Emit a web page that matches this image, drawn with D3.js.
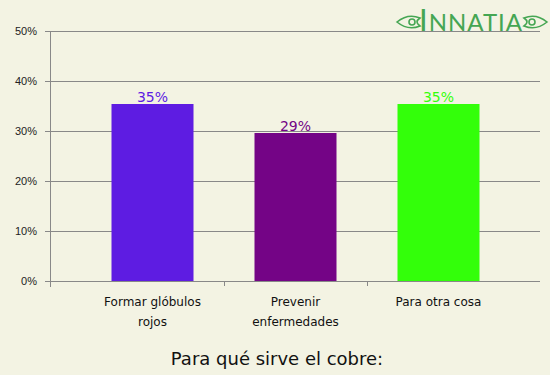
<!DOCTYPE html>
<html>
<head>
<meta charset="utf-8">
<script src="https://cdn.jsdelivr.net/npm/d3@7/dist/d3.min.js"></script>
<style>
  body { margin: 0; background: #f3f3e3; }
  svg { display: block; font-family: "DejaVu Sans", Verdana, sans-serif; }
</style>
</head>
<body>
<svg id="chart"></svg>
<script>
// data
const categories = [['Formar glóbulos', 'rojos'], ['Prevenir', 'enfermedades'], ['Para otra cosa']];
const values = [35.4, 29.6, 35.4];
const valueLabels = ['35%', '29%', '35%'];
const colors = ['#5e1ce2', '#740486', '#33ff0a'];
const yTicks = [0, 10, 20, 30, 40, 50];
const title = 'Para qué sirve el cobre:';

const W = 550, H = 375;
const svg = d3.select('#chart').attr('width', W).attr('height', H);

svg.append('rect').attr('width', W).attr('height', H).attr('fill', '#f3f3e3');

const margin = {top: 31, right: 10, bottom: 94, left: 50},
    width = W - margin.left - margin.right,
    height = H - margin.top - margin.bottom;

const g = svg.append('g')
  .attr('transform', 'translate(' + margin.left + ',' + margin.top + ')');

const y = d3.scaleLinear().domain([0, 50]).range([height, 0]);

// bands sit inside the plot with some slack on each side
const x = d3.scaleBand()
  .domain(d3.range(categories.length))
  .range([31, 31 + 143 * 3])
  .paddingInner(0)
  .paddingOuter(0);

// gridlines
g.selectAll('.grid')
  .data(yTicks.filter(d => d > 0))
  .enter().append('line')
  .attr('x1', 0).attr('x2', width)
  .attr('y1', d => y(d)).attr('y2', d => y(d))
  .attr('stroke', '#888').attr('stroke-width', 1)
  .attr('shape-rendering', 'crispEdges');

// y axis
const yAxis = g.append('g')
  .call(d3.axisLeft(y).tickValues(yTicks).tickSize(5).tickPadding(8).tickFormat(d => d + '%'));
yAxis.select('.domain').remove();
yAxis.append('line')
  .attr('x1', 0).attr('x2', 0).attr('y1', 0).attr('y2', height + 6)
  .attr('stroke', '#888').attr('shape-rendering', 'crispEdges');
yAxis.selectAll('.tick line').attr('stroke', '#888').attr('shape-rendering', 'crispEdges');
yAxis.selectAll('.tick text').attr('fill', '#222').style('font-size', '11px');

// x axis baseline
g.append('line')
  .attr('x1', 0).attr('x2', width).attr('y1', height).attr('y2', height)
  .attr('stroke', '#888').attr('shape-rendering', 'crispEdges');

// ticks between categories
g.selectAll('.xtick')
  .data(d3.range(1, categories.length))
  .enter().append('line')
  .attr('x1', d => x(d)).attr('x2', d => x(d))
  .attr('y1', height).attr('y2', height + 5)
  .attr('stroke', '#888').attr('shape-rendering', 'crispEdges');

// bars
const barW = 82;
g.selectAll('.bar')
  .data(values)
  .enter().append('rect')
  .attr('class', 'bar')
  .attr('x', (d, i) => x(i) + x.bandwidth() / 2 - barW / 2)
  .attr('y', d => y(d))
  .attr('width', barW)
  .attr('height', d => height - y(d))
  .attr('fill', (d, i) => colors[i]);

// value labels
g.selectAll('.val')
  .data(values)
  .enter().append('text')
  .attr('x', (d, i) => x(i) + x.bandwidth() / 2)
  .attr('y', d => y(d) - 2)
  .attr('text-anchor', 'middle')
  .attr('fill', (d, i) => colors[i])
  .style('font-size', '14px')
  .text((d, i) => valueLabels[i]);

// category labels
const cat = g.selectAll('.cat')
  .data(categories)
  .enter().append('text')
  .attr('text-anchor', 'middle')
  .attr('fill', '#111')
  .style('font-size', '12px');
cat.each(function(lines, i) {
  d3.select(this).selectAll('tspan')
    .data(lines)
    .enter().append('tspan')
    .attr('x', x(i) + x.bandwidth() / 2)
    .attr('y', (l, j) => height + 25 + j * 20)
    .text(l => l);
});

// title
svg.append('text')
  .attr('x', 277).attr('y', 365)
  .attr('text-anchor', 'middle')
  .attr('fill', '#111')
  .style('font-size', '18px')
  .text(title);

// logo
const green = '#45a653';
const logo = svg.append('g');
logo.append('text')
  .attr('x', 419).attr('y', 31)
  .attr('fill', green)
  .style('font-family', 'Lato, sans-serif')
  .style('font-weight', 400)
  .style('font-size', '24px')
  .style('letter-spacing', '1px')
  .html('<tspan style="font-size:31px">I</tspan>NNATIA');

// little leaf ornaments either side
const leaf = (cx, dir) => {
  const o = logo.append('g').attr('transform', 'translate(' + cx + ',22) scale(' + dir + ',1)')
    .attr('fill', 'none').attr('stroke', green).attr('stroke-width', 1.6);
  o.append('path').attr('d', 'M-13,0 Q-2,-9 10,-4 Q4,0 10,4 Q-2,9 -13,0 Z');
  o.append('circle').attr('cx', 2).attr('cy', 0).attr('r', 3);
};
leaf(410, 1);
leaf(534, -1);
</script>
</body>
</html>
